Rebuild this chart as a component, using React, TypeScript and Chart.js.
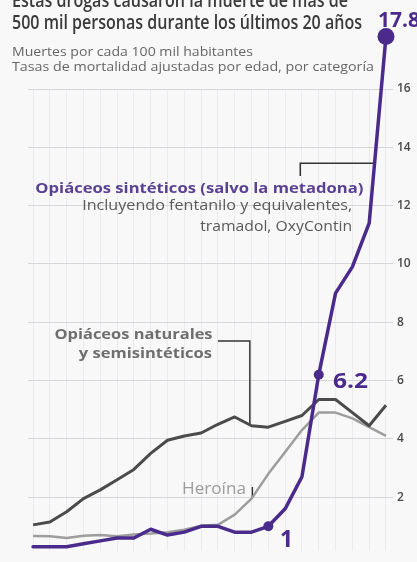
import React, { useEffect, useRef } from "react";
import { Chart, registerables } from "chart.js";

Chart.register(...registerables);

const W = 417;
const H = 562;

// ---- Data ----
const years = [1999, 2000, 2001, 2002, 2003, 2004, 2005, 2006, 2007, 2008, 2009, 2010, 2011, 2012, 2013, 2014, 2015, 2016, 2017, 2018, 2019, 2020];
const syntheticRates = [0.3, 0.3, 0.3, 0.4, 0.5, 0.6, 0.6, 0.9, 0.7, 0.8, 1.0, 1.0, 0.8, 0.8, 1.0, 1.6, 2.7, 6.2, 9.0, 9.9, 11.4, 17.8];
const naturalRates = [1.05, 1.15, 1.5, 1.95, 2.25, 2.6, 2.95, 3.5, 3.95, 4.1, 4.2, 4.5, 4.75, 4.45, 4.4, 4.6, 4.8, 5.35, 5.35, 4.9, 4.45, 5.15];
const heroinRates = [0.67, 0.66, 0.6, 0.68, 0.7, 0.66, 0.72, 0.75, 0.8, 0.88, 1.02, 1.05, 1.4, 1.95, 2.8, 3.55, 4.3, 4.9, 4.9, 4.7, 4.4, 4.1];
const yTickValues = [2, 4, 6, 8, 10, 12, 14, 16];
const markedYears = [2013, 2016, 2020];

// ---- Styles ----
const PURPLE = "#4a2a8a";
const BG = "#f8f8f9";

// leader lines for annotations (data units: [year, rate])
const leaders: [number, number][][] = [
  [[2014.9, 13.02], [2014.9, 13.45], [2019.33, 13.45]],
  [[2010.0, 7.36], [2011.9, 7.36], [2011.9, 4.5]],
  [[2012.05, 2.35], [2012.05, 1.98]],
];

type Txt = {
  text: string;
  x: number;
  baseline: number;
  size: number;
  weight: number;
  color: string;
  align: "left" | "right";
  width?: number;
};

const texts: Txt[] = [
  { text: "Estas drogas causaron la muerte de más de", x: 12, baseline: 8, size: 20, weight: 600, color: "#3a3a3a", align: "left", width: 336 },
  { text: "500 mil personas durante los últimos 20 años", x: 12, baseline: 30, size: 20, weight: 600, color: "#3a3a3a", align: "left", width: 350 },
  { text: "17.8", x: 378, baseline: 28, size: 21, weight: 700, color: PURPLE, align: "left" },
  { text: "Muertes por cada 100 mil habitantes", x: 12, baseline: 57, size: 13, weight: 400, color: "#666666", align: "left", width: 241 },
  { text: "Tasas de mortalidad ajustadas por edad, por categoría", x: 12, baseline: 72, size: 13, weight: 400, color: "#666666", align: "left", width: 362 },
  { text: "Opiáceos sintéticos (salvo la metadona)", x: 363, baseline: 193, size: 15, weight: 700, color: "#5b4193", align: "right", width: 328 },
  { text: "Incluyendo fentanilo y equivalentes,", x: 352, baseline: 210, size: 14, weight: 400, color: "#5a5a5a", align: "right", width: 270 },
  { text: "tramadol, OxyContin", x: 352, baseline: 231, size: 14, weight: 400, color: "#5a5a5a", align: "right", width: 152 },
  { text: "Opiáceos naturales", x: 213, baseline: 340, size: 14.5, weight: 700, color: "#6e6e6e", align: "right", width: 158 },
  { text: "y semisintéticos", x: 212, baseline: 359, size: 14.5, weight: 700, color: "#6e6e6e", align: "right", width: 133 },
  { text: "Heroína", x: 182, baseline: 495, size: 16.5, weight: 400, color: "#9c9c9c", align: "left", width: 64 },
  { text: "6.2", x: 333, baseline: 388, size: 22, weight: 700, color: PURPLE, align: "left", width: 35 },
  { text: "1", x: 280, baseline: 547, size: 23, weight: 700, color: PURPLE, align: "left" },
];

const FAMILY = "Open Sans";
let measureCtx: CanvasRenderingContext2D | null = null;
function measure(text: string, font: string) {
  if (!measureCtx) measureCtx = document.createElement("canvas").getContext("2d");
  measureCtx!.font = font;
  return measureCtx!.measureText(text).width;
}

function Label({ t }: { t: Txt }) {
  const font = `${t.weight} ${t.size}px "${FAMILY}"`;
  const sx = t.width ? t.width / measure(t.text, font) : 1;
  const top = t.baseline - 0.888 * t.size;
  const style: React.CSSProperties = {
    position: "absolute",
    top,
    whiteSpace: "nowrap",
    fontFamily: `"${FAMILY}", sans-serif`,
    fontSize: t.size,
    fontWeight: t.weight,
    lineHeight: `${t.size}px`,
    color: t.color,
    transform: `scaleX(${sx})`,
    transformOrigin: t.align === "left" ? "left center" : "right center",
  };
  if (t.align === "left") style.left = t.x;
  else style.right = W - t.x;
  return <div style={style}>{t.text}</div>;
}

const leaderPlugin = {
  id: "leaders",
  beforeDatasetsDraw(chart: any) {
    const { ctx, scales } = chart;
    const xs = scales.x;
    const ys = scales.y;
    ctx.save();
    ctx.strokeStyle = "#333333";
    ctx.lineWidth = 1.5;
    leaders.forEach((pts) => {
      ctx.beginPath();
      pts.forEach(([a, b], i) => {
        const px = xs.getPixelForValue(a);
        const py = ys.getPixelForValue(b);
        if (i === 0) ctx.moveTo(px, py);
        else ctx.lineTo(px, py);
      });
      ctx.stroke();
    });
    ctx.restore();
  },
  afterDatasetsDraw(chart: any) {
    const { ctx } = chart;
    const meta = chart.getDatasetMeta(0);
    ctx.save();
    ctx.fillStyle = PURPLE;
    markedYears.forEach((yr) => {
      const i = years.indexOf(yr);
      const el = meta.data[i];
      if (!el) return;
      const r = yr === 2020 ? 8.5 : 5;
      ctx.beginPath();
      ctx.arc(el.x, el.y, r, 0, Math.PI * 2);
      ctx.fill();
    });
    ctx.restore();
  },
};

export default function App() {
  const ref = useRef<HTMLCanvasElement>(null);

  useEffect(() => {
    if (!ref.current) return;
    const toPts = (arr: number[]) => years.map((yr, i) => ({ x: yr, y: arr[i] }));
    const chart = new Chart(ref.current, {
      type: "line",
      data: {
        datasets: [
          {
            label: "Opiáceos sintéticos",
            data: toPts(syntheticRates),
            borderColor: PURPLE,
            backgroundColor: PURPLE,
            borderWidth: 3.5,
            borderJoinStyle: "round",
            borderCapStyle: "round",
            tension: 0,
            pointRadius: 0,
            clip: false as any,
          },
          {
            label: "Opiáceos naturales y semisintéticos",
            data: toPts(naturalRates),
            borderColor: "#4b4b4b",
            borderWidth: 3,
            borderJoinStyle: "round",
            pointRadius: 0,
            tension: 0,
          },
          {
            label: "Heroína",
            data: toPts(heroinRates),
            borderColor: "#9d9d9d",
            borderWidth: 2.5,
            borderJoinStyle: "round",
            pointRadius: 0,
            tension: 0,
          },
        ],
      },
      options: {
        animation: false,
        responsive: false,
        devicePixelRatio: 1,
        layout: { padding: { left: 28, top: 89, right: 0, bottom: 0 } },
        plugins: { legend: { display: false }, tooltip: { enabled: false } },
        scales: {
          x: {
            type: "linear",
            min: 1998.7,
            max: 2020.12,
            ticks: { display: false },
            grid: { color: "#ebebef", lineWidth: 1, drawTicks: false },
            border: { display: false },
            afterBuildTicks: (s: any) => {
              s.ticks = years.map((v) => ({ value: v }));
            },
            afterFit: (s: any) => {
              s.height = 0;
            },
          },
          y: {
            type: "linear",
            position: "right",
            min: 0.16,
            max: 16,
            ticks: {
              color: "#4a4a4a",
              padding: 4,
              font: { family: "Open Sans", size: 12, weight: 600 as any },
            },
            grid: { color: "#d6d6da", lineWidth: 1, tickLength: 5 },
            border: { display: false },
            afterBuildTicks: (s: any) => {
              s.ticks = yTickValues.map((v) => ({ value: v }));
            },
            afterFit: (s: any) => {
              s.width = 29;
            },
          },
        },
      } as any,
      plugins: [leaderPlugin],
    });
    return () => chart.destroy();
  }, []);

  return (
    <div
      style={{
        position: "fixed",
        left: 0,
        top: 0,
        width: W,
        height: H,
        background: BG,
        overflow: "hidden",
      }}
    >
      <canvas ref={ref} width={W} height={H} style={{ position: "absolute", left: 0, top: 0, width: W, height: H }} />
      {texts.map((t, i) => (
        <Label key={i} t={t} />
      ))}
    </div>
  );
}
